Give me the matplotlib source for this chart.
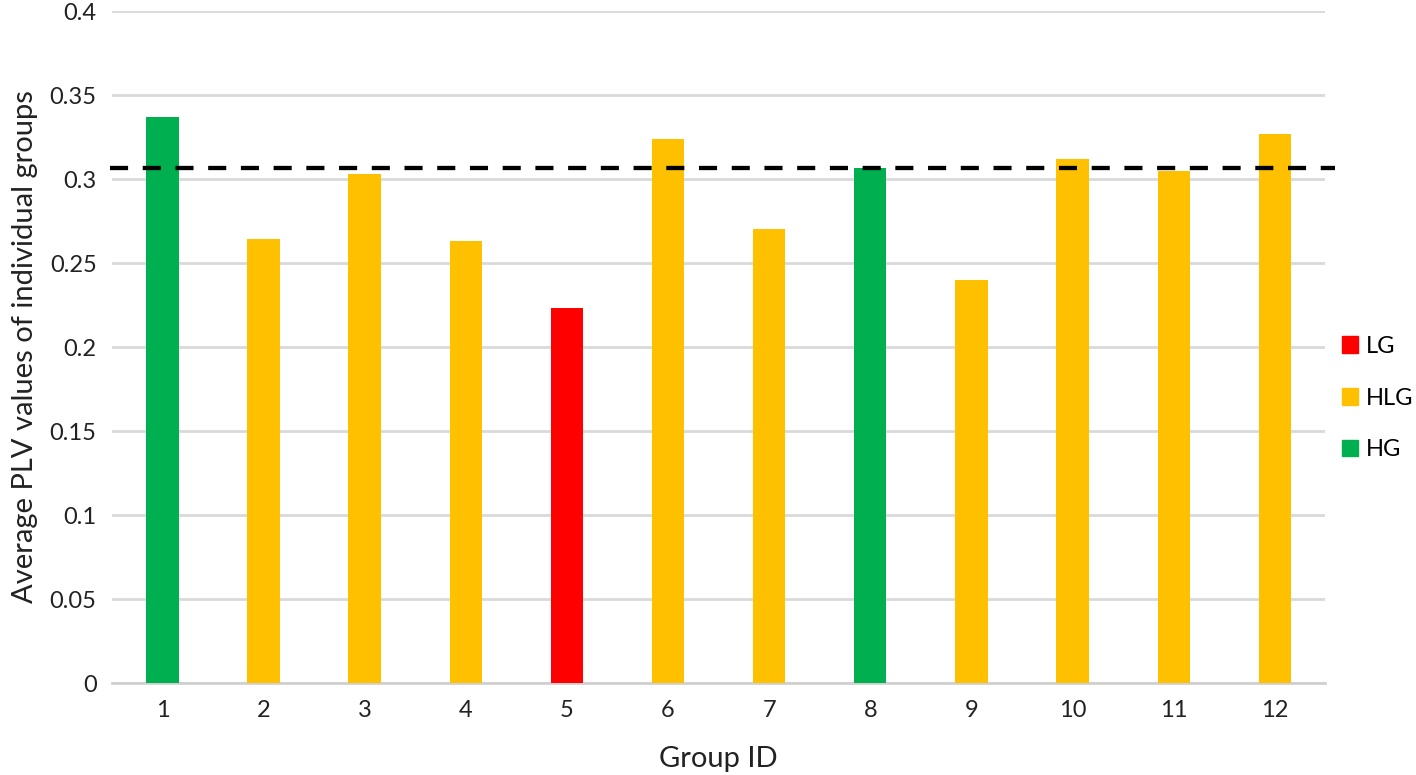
import matplotlib.pyplot as plt
from matplotlib.patches import Patch

# Données
group_ids = [str(i) for i in range(1, 13)]
plv_values = [0.337, 0.264, 0.303, 0.263, 0.223, 0.324, 0.270, 0.3065, 0.240, 0.312, 0.305, 0.327]
group_class = ['HG', 'HLG', 'HLG', 'HLG', 'LG', 'HLG', 'HLG', 'HG', 'HLG', 'HLG', 'HLG', 'HLG']
threshold = 0.3063

class_names = ['LG', 'HLG', 'HG']
class_colors = {'LG': '#FF0000', 'HLG': '#FFC000', 'HG': '#00B050'}

plt.rcParams['font.family'] = ['Lato', 'DejaVu Sans']

fig = plt.figure(figsize=(14.16, 7.75), dpi=100)
ax = fig.add_axes([0.079, 0.1187, 0.857, 0.8671])

x = range(len(group_ids))
ax.bar(x, plv_values, width=0.32, color=[class_colors[c] for c in group_class], zorder=3)

# ligne de seuil (dépasse légèrement à droite)
ax.plot([-0.52, 11.6], [threshold, threshold], color='black', lw=3.1,
        dashes=(4.2, 3.4), clip_on=False, zorder=4)

ax.set_xlim(-0.5, 11.5)
ax.set_ylim(0, 0.4)
ax.set_yticks([0, 0.05, 0.1, 0.15, 0.2, 0.25, 0.3, 0.35, 0.4])
ax.set_yticklabels(['0', '0.05', '0.1', '0.15', '0.2', '0.25', '0.3', '0.35', '0.4'])
ax.set_xticks(list(x))
ax.set_xticklabels(group_ids)
ax.tick_params(length=0, labelsize=17, colors='#222222')
ax.tick_params(axis='x', pad=12)
ax.tick_params(axis='y', pad=11)

ax.grid(axis='y', color='#d9d9d9', lw=2, zorder=0)
for s in ['top', 'right', 'left']:
    ax.spines[s].set_visible(False)
ax.spines['bottom'].set_color('#d0d0d0')
ax.spines['bottom'].set_linewidth(2)

ax.set_xlabel('Group ID', fontsize=21, color='#222222', labelpad=18)
ax.set_ylabel('Average PLV values of individual groups', fontsize=21, color='#222222', labelpad=8)

handles = [Patch(color=class_colors[c], label=c) for c in class_names]
ax.legend(handles=handles, loc='center left', bbox_to_anchor=(1.0, 0.424), frameon=False,
          fontsize=17, handlelength=0.7, handleheight=0.7, handletextpad=0.3,
          labelspacing=1.3, borderaxespad=0.35, borderpad=0.35)

fig.savefig('out.png', dpi=100)
